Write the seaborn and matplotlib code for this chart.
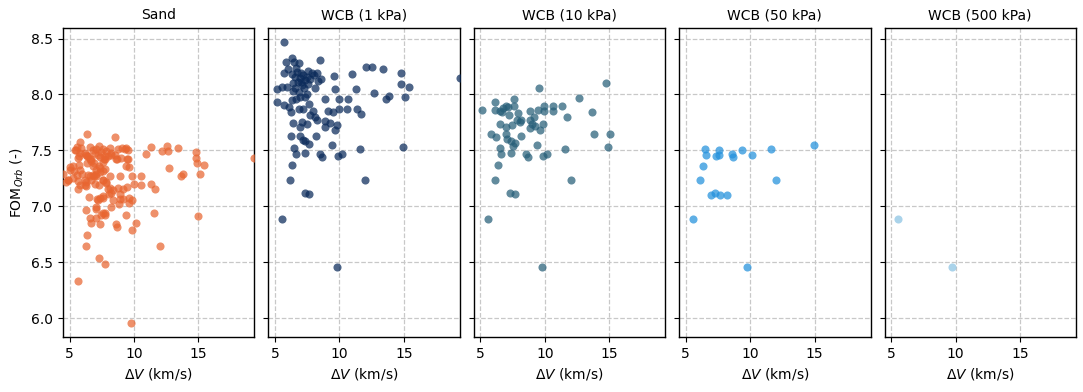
import numpy as np
import pandas as pd
import matplotlib
matplotlib.use("Agg")
import matplotlib.pyplot as plt
import seaborn as sns

# ---------------- data ----------------
panel_titles = ["Sand", "WCB (1 kPa)", "WCB (10 kPa)", "WCB (50 kPa)", "WCB (500 kPa)"]

sand_dv = [6.35, 8.51, 5.78, 5.57, 6.56, 7.29, 5.39, 5.91, 6.17, 6.82, 7.08, 7.60, 7.86, 8.12,
           8.79, 9.10, 9.36, 9.55, 6.43, 6.69, 7.34, 7.68, 8.25, 8.64, 5.70, 6.90, 7.29, 7.60,
           7.73, 6.38, 6.35, 10.97, 11.29, 12.14, 12.53, 12.66, 13.42, 14.79, 14.82, 14.87,
           15.44, 19.30, 12.69, 13.78, 13.65, 15.16, 14.97, 4.48, 5.05, 5.31, 5.73, 5.57, 5.99,
           4.87, 4.69, 5.78, 6.25, 5.65, 6.56, 6.87, 7.08, 7.34, 7.73, 8.12, 6.98, 7.29, 7.60,
           7.81, 7.99, 8.25, 8.38, 9.49, 9.42, 9.60, 8.88, 9.83, 10.56, 9.49, 10.01, 10.56,
           11.32, 11.66, 8.94, 9.17, 8.91, 8.86, 9.17, 9.64, 9.60, 9.84, 7.16, 7.34, 6.51, 7.60,
           7.03, 6.25, 6.56, 6.69, 7.08, 7.60, 7.73, 8.25, 7.34, 8.64, 8.69, 9.42, 10.19, 9.88,
           11.57, 12.01, 6.25, 6.38, 7.29, 7.73, 5.68, 9.81,
           5.52, 5.78, 5.65, 6.30, 6.56, 6.69, 6.95, 7.21, 7.47, 7.73, 7.99, 8.25, 8.51, 8.69,
           9.03, 9.29, 9.55, 6.82, 7.08, 7.34, 7.60, 6.82, 7.08, 6.69, 6.43, 6.17, 5.78, 5.26,
           5.00, 4.87, 5.26, 5.65, 6.17, 6.30, 7.60, 7.86, 8.12, 8.38, 8.77, 8.06, 7.60, 7.21,
           7.03, 7.47, 7.73]
sand_fom = [7.645, 7.621, 7.574, 7.529, 7.529, 7.535, 7.505, 7.517, 7.476, 7.499, 7.511, 7.511,
            7.490, 7.520, 7.511, 7.520, 7.520, 7.499, 7.446, 7.422, 7.440, 7.422, 7.461, 7.422,
            7.446, 7.387, 7.363, 7.393, 7.422, 7.387, 7.446, 7.470, 7.529, 7.496, 7.541, 7.496,
            7.523, 7.482, 7.431, 7.387, 7.369, 7.428, 7.342, 7.292, 7.268, 7.292, 6.915, 7.292,
            7.351, 7.318, 7.366, 7.283, 7.292, 7.238, 7.214, 7.194, 7.214, 7.155, 7.268, 7.268,
            7.292, 7.303, 7.333, 7.268, 7.203, 7.194, 7.238, 7.214, 7.155, 7.119, 7.060, 7.422,
            7.357, 7.351, 7.274, 7.274, 7.274, 7.173, 7.203, 7.194, 7.203, 7.158, 7.113, 7.155,
            7.066, 7.024, 7.066, 7.075, 7.030, 7.054, 7.066, 7.075, 7.084, 7.090, 6.995, 6.965,
            6.897, 6.846, 6.897, 6.941, 6.926, 6.995, 6.843, 6.837, 6.817, 6.926, 6.846, 6.787,
            6.941, 6.644, 6.644, 6.739, 6.540, 6.487, 6.333, 5.955,
            7.505, 7.476, 7.431, 7.461, 7.422, 7.401, 7.476, 7.461, 7.482, 7.452, 7.446, 7.476,
            7.461, 7.422, 7.431, 7.511, 7.422, 7.357, 7.327, 7.342, 7.312, 7.283, 7.268, 7.238,
            7.283, 7.238, 7.327, 7.357, 7.327, 7.238, 7.253, 7.223, 7.194, 7.179, 7.238, 7.208,
            7.164, 7.149, 7.164, 7.105, 7.075, 7.060, 6.971, 6.926, 6.941]

wcb1_dv = [5.73, 6.31, 8.47, 5.84, 6.51, 6.83, 5.73, 6.31, 6.70, 7.04, 7.56, 7.87, 8.26, 6.57,
           6.96, 7.48, 8.00, 8.60, 6.78, 7.35, 6.44, 7.09, 9.57, 10.95, 12.10, 12.57, 13.41,
           14.79, 14.77, 15.44, 19.34, 5.13, 5.52, 5.91, 6.57, 7.22, 8.08, 9.65, 11.27, 12.68,
           13.82, 13.62, 15.08, 5.13, 5.73, 6.36, 6.62, 6.96, 7.35, 7.61, 8.86, 9.96, 10.64,
           6.10, 6.25, 6.88, 7.14, 7.92, 7.74, 9.13, 9.49, 9.96, 10.61, 11.34, 11.71, 8.08,
           8.26, 6.44, 7.09, 7.48, 8.86, 9.31, 9.83, 6.96, 8.91, 9.65, 6.23, 6.96, 8.21, 7.17,
           7.35, 7.61, 9.44, 6.51, 11.61, 14.97, 6.65, 7.35, 8.52, 8.66, 9.88, 10.22, 6.31,
           6.20, 11.99, 7.30, 7.66, 5.57, 9.78,
           6.05, 6.65, 7.20, 7.75, 6.40, 7.00, 7.60, 8.35, 6.85, 7.45]
wcb1_fom = [8.470, 8.327, 8.310, 8.286, 8.289, 8.283, 8.190, 8.180, 8.200, 8.190, 8.210, 8.190,
            8.190, 8.158, 8.143, 8.158, 8.170, 8.134, 8.113, 8.128, 8.098, 8.083, 8.164, 8.180,
            8.247, 8.247, 8.229, 8.190, 8.092, 8.068, 8.143, 8.048, 8.063, 8.063, 8.054, 8.054,
            8.054, 8.051, 8.051, 8.009, 7.985, 7.955, 7.979, 7.935, 7.902, 7.949, 7.955, 7.973,
            7.979, 7.914, 7.955, 7.955, 7.955, 7.884, 7.845, 7.866, 7.866, 7.854, 7.815, 7.854,
            7.845, 7.866, 7.866, 7.866, 7.821, 7.795, 7.771, 7.741, 7.756, 7.735, 7.765, 7.747,
            7.726, 7.705, 7.705, 7.682, 7.628, 7.628, 7.628, 7.592, 7.586, 7.557, 7.548, 7.524,
            7.509, 7.533, 7.467, 7.479, 7.467, 7.443, 7.449, 7.464, 7.366, 7.235, 7.235, 7.122,
            7.110, 6.884, 6.452,
            8.230, 8.240, 8.170, 8.140, 8.030, 8.110, 8.090, 8.120, 8.020, 8.000]

wcb10_dv = [14.74, 9.54, 12.68, 6.10, 7.61, 5.13, 6.17, 6.49, 6.75, 6.96, 7.14, 7.58, 6.70,
            7.22, 7.92, 8.84, 9.15, 9.49, 9.96, 9.96, 10.61, 10.61, 11.34, 11.76, 13.64, 6.49,
            7.01, 7.48, 7.85, 8.05, 8.18, 8.84, 8.97, 8.89, 9.23, 9.62, 9.88, 5.86, 6.23, 6.96,
            7.09, 7.40, 7.66, 7.53, 8.18, 9.41, 6.49, 13.85, 15.10, 14.92, 11.58, 6.64, 7.35,
            8.58, 8.71, 9.83, 10.20, 6.36, 6.17, 12.02, 7.32, 7.66, 5.60, 9.78]
wcb10_fom = [8.104, 8.054, 7.967, 7.935, 7.958, 7.860, 7.860, 7.854, 7.875, 7.896, 7.890,
             7.896, 7.842, 7.815, 7.836, 7.854, 7.801, 7.860, 7.896, 7.848, 7.896, 7.848,
             7.896, 7.801, 7.845, 7.732, 7.711, 7.729, 7.771, 7.756, 7.771, 7.771, 7.732,
             7.696, 7.717, 7.682, 7.735, 7.646, 7.616, 7.646, 7.598, 7.583, 7.562, 7.539,
             7.631, 7.548, 7.524, 7.646, 7.646, 7.533, 7.509, 7.467, 7.473, 7.467, 7.437,
             7.449, 7.464, 7.366, 7.235, 7.235, 7.122, 7.110, 6.884, 6.452]

wcb50_dv = [6.52, 6.60, 7.60, 7.31, 7.57, 8.56, 8.67, 9.40, 10.16, 11.58, 14.96, 6.31, 6.13,
            12.02, 6.94, 7.28, 7.62, 8.20, 5.58, 9.74]
wcb50_fom = [7.509, 7.461, 7.503, 7.449, 7.461, 7.464, 7.443, 7.503, 7.461, 7.509, 7.551,
             7.363, 7.235, 7.235, 7.104, 7.122, 7.098, 7.104, 6.884, 6.455]

wcb500_dv = [5.55, 9.72]
wcb500_fom = [6.890, 6.458]

colors = ["#E86530", "#0A2A5A", "#265E78", "#2290DC", "#8AC3E3"]

series = [(sand_dv, sand_fom), (wcb1_dv, wcb1_fom), (wcb10_dv, wcb10_fom),
          (wcb50_dv, wcb50_fom), (wcb500_dv, wcb500_fom)]

frames = []
for title, (dv, fom) in zip(panel_titles, series):
    frames.append(pd.DataFrame({"dv": dv, "fom": fom, "case": title}))
df = pd.concat(frames, ignore_index=True)

# ---------------- plot ----------------
plt.rcParams["font.family"] = ["DejaVu Sans"]
plt.rcParams["font.size"] = 10

fig, axes = plt.subplots(1, 5, figsize=(10.83, 3.92), dpi=100, sharey=True, sharex=True)
fig.subplots_adjust(left=0.058, right=0.9935, top=0.929, bottom=0.14, wspace=0.073)

xmin, xmax = df["dv"].min(), df["dv"].max()
for ax, title, col in zip(axes, panel_titles, colors):
    sub = df[df["case"] == title]
    sns.scatterplot(data=sub, x="dv", y="fom", ax=ax, color=col, alpha=0.72,
                    s=34, linewidth=0, zorder=3)
    ax.set_title(title, fontsize=10)
    ax.set_xlabel(r"$\Delta V$ (km/s)", fontsize=10)
    ax.set_ylabel("")
    ax.grid(True, linestyle="--", color="#c8c8c8", linewidth=0.9, zorder=0)
    ax.set_axisbelow(True)
    ax.set_xticks([5, 10, 15])
    for sp in ax.spines.values():
        sp.set_color("black")
        sp.set_linewidth(1.0)

axes[0].set_xlim(xmin, xmax)
axes[0].set_yticks([6.0, 6.5, 7.0, 7.5, 8.0, 8.5])
axes[0].set_ylabel(r"FOM$_{Orb}$ (-)", fontsize=10)

fig.savefig("out.png", dpi=100)
